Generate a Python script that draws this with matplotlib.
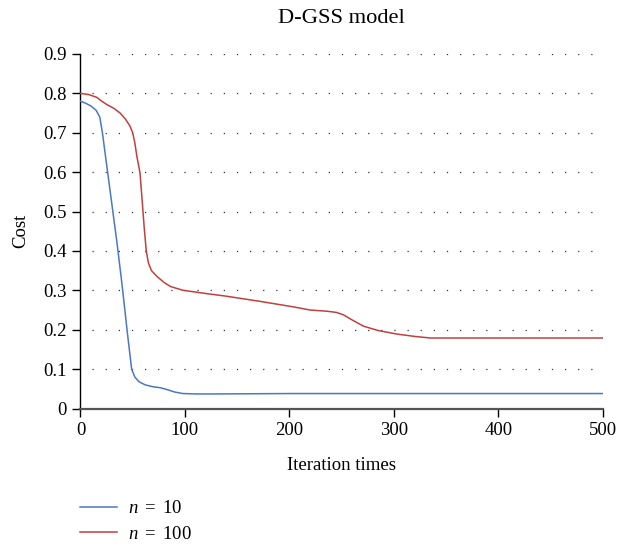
import matplotlib
matplotlib.use('Agg')
import matplotlib.pyplot as plt

# Data
iter_n10 = [0, 5, 10, 15, 18.5, 21, 25, 30, 35, 40, 45, 49, 52, 56, 62, 70, 76, 83, 90, 98, 110, 130, 200, 300, 400, 500]
cost_n10 = [0.780, 0.775, 0.768, 0.757, 0.740, 0.700, 0.620, 0.520, 0.420, 0.310, 0.190, 0.100, 0.080, 0.068,
            0.060, 0.055, 0.053, 0.048, 0.042, 0.038, 0.037, 0.037, 0.038, 0.038, 0.038, 0.038]

iter_n100 = [0, 8, 15.5, 20, 25, 32, 38, 43, 47.4, 50, 52, 54, 57, 59, 61, 63, 65, 68, 73, 80, 86, 92, 98.5,
             120, 140, 172, 204, 220, 236, 245, 251.7, 260, 271, 285, 303, 320, 335, 350, 400, 500]
cost_n100 = [0.800, 0.797, 0.790, 0.781, 0.772, 0.762, 0.750, 0.735, 0.717, 0.700, 0.675, 0.640, 0.598, 0.530,
             0.460, 0.400, 0.370, 0.350, 0.336, 0.320, 0.310, 0.305, 0.300, 0.292, 0.285, 0.272, 0.258, 0.250,
             0.247, 0.244, 0.238, 0.225, 0.209, 0.198, 0.189, 0.183, 0.179, 0.179, 0.179, 0.179]

labels = [r'$n\ =\ 10$', r'$n\ =\ 100$']
y_ticks = [0, 0.1, 0.2, 0.3, 0.4, 0.5, 0.6, 0.7, 0.8, 0.9]
y_tick_labels = ['0', '0.1', '0.2', '0.3', '0.4', '0.5', '0.6', '0.7', '0.8', '0.9']
x_ticks = [0, 100, 200, 300, 400, 500]

plt.rcParams['font.family'] = ['Liberation Serif', 'DejaVu Serif']
plt.rcParams['mathtext.fontset'] = 'custom'
plt.rcParams['mathtext.it'] = 'Liberation Serif:italic'
plt.rcParams['mathtext.rm'] = 'Liberation Serif'
plt.rcParams['font.size'] = 13.5

fig = plt.figure(figsize=(6.19, 5.46), dpi=100)
ax = fig.add_axes([0.130, 0.2518, 0.8437, 0.6493])

# Dotted horizontal guide lines
ax.hlines(y_ticks[1:], 11, 500, colors='#333333', linewidth=0.9,
          linestyles=(0, (1, 9.5)), zorder=1)

ax.plot(iter_n10, cost_n10, color='#4a78c2', linewidth=1.1, label=labels[0], zorder=3)
ax.plot(iter_n100, cost_n100, color='#c0403f', linewidth=1.1, label=labels[1], zorder=3)

ax.set_xlim(0, 500)
ax.set_ylim(0, 0.9)
ax.set_xticks(x_ticks)
ax.set_yticks(y_ticks)
ax.set_yticklabels(y_tick_labels)

for side in ['top', 'right']:
    ax.spines[side].set_visible(False)
ax.spines['left'].set_color('black')
ax.spines['left'].set_linewidth(1.0)
ax.spines['bottom'].set_color('#555555')
ax.spines['bottom'].set_linewidth(1.6)
ax.tick_params(axis='both', direction='out', length=6, width=1.0, color='black', pad=4)

ax.set_title('D-GSS model', pad=22)
ax.set_xlabel('Iteration times', labelpad=13)
ax.set_ylabel('Cost', labelpad=10)

fig.legend(loc='upper left', bbox_to_anchor=(0.129, 0.084), frameon=False,
           borderpad=0, borderaxespad=0, handlelength=2.0, handletextpad=0.55,
           labelspacing=0.45)

fig.savefig('out.png', dpi=100)
